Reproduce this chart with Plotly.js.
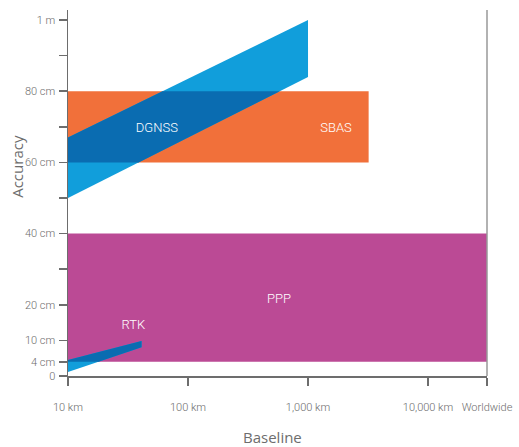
<!DOCTYPE html>
<html><head><meta charset="utf-8">
<script src="https://cdn.plot.ly/plotly-3.0.1.min.js"></script>
<style>html,body{margin:0;padding:0;background:#fff}#chart{width:519px;height:447px}</style>
</head><body><div id="chart"></div>
<script>
// ---- data (baseline in km, accuracy in cm) ----
const xTickVals = [10, 100, 1000, 10000, 31000];
const xTickText = ['10 km', '100 km', '1,000 km', '10,000 km', 'Worldwide'];
const yTickVals = [0, 4, 10, 20, 30, 40, 50, 60, 70, 80, 90, 100];
const yTickText = ['0', '4 cm', '10 cm', '20 cm', '', '40 cm', '', '60 cm', '', '80 cm', '', '1 m'];

// DGNSS band: baseline endpoints, lower and upper accuracy at those endpoints
const dgnssX = [10, 1000];
const dgnssLow = [50, 84];
const dgnssHigh = [67, 100];
// SBAS box
const sbasX = [10, 3200];
const sbasY = [60, 80];
// PPP box
const pppX = [10, 31000];
const pppY = [4, 40];
// RTK band
const rtkX = [10, 41];
const rtkLow = [1.1, 8.1];
const rtkHigh = [4.5, 9.8];

const labels = [
  {name: 'DGNSS', x: 55, y: 69.5},
  {name: 'SBAS', x: 1710, y: 69.5},
  {name: 'PPP', x: 573, y: 21.5},
  {name: 'RTK', x: 35, y: 14}
];

const C = {orange: '#f1703a', light: '#119edb', dark: '#0a6cb1', magenta: '#bb4a95', axis: '#6d6d6d'};

function band(xs, lo, hi) {
  const l = xs.map(Math.log10);
  return [[l[0], lo[0]], [l[1], lo[1]], [l[1], hi[1]], [l[0], hi[0]]];
}
function box(xs, ys) {
  const l = xs.map(Math.log10);
  return [[l[0], ys[0]], [l[1], ys[0]], [l[1], ys[1]], [l[0], ys[1]]];
}
function clip(poly, xmin, xmax, ymin, ymax) {
  const edges = [
    [p => p[0] >= xmin, (a, b) => { const t = (xmin - a[0]) / (b[0] - a[0]); return [xmin, a[1] + t * (b[1] - a[1])]; }],
    [p => p[0] <= xmax, (a, b) => { const t = (xmax - a[0]) / (b[0] - a[0]); return [xmax, a[1] + t * (b[1] - a[1])]; }],
    [p => p[1] >= ymin, (a, b) => { const t = (ymin - a[1]) / (b[1] - a[1]); return [a[0] + t * (b[0] - a[0]), ymin]; }],
    [p => p[1] <= ymax, (a, b) => { const t = (ymax - a[1]) / (b[1] - a[1]); return [a[0] + t * (b[0] - a[0]), ymax]; }]
  ];
  let out = poly;
  for (const [inside, inter] of edges) {
    const inp = out; out = [];
    for (let i = 0; i < inp.length; i++) {
      const cur = inp[i], prev = inp[(i + inp.length - 1) % inp.length];
      if (inside(cur)) { if (!inside(prev)) out.push(inter(prev, cur)); out.push(cur); }
      else if (inside(prev)) out.push(inter(prev, cur));
    }
  }
  return out;
}
function polyTrace(poly, color) {
  const xs = poly.map(p => Math.pow(10, p[0])), ys = poly.map(p => p[1]);
  xs.push(xs[0]); ys.push(ys[0]);
  return {x: xs, y: ys, type: 'scatter', mode: 'lines', fill: 'toself', fillcolor: color,
          line: {width: 0, color: color}, hoverinfo: 'skip', showlegend: false};
}

const dg = band(dgnssX, dgnssLow, dgnssHigh);
const sb = box(sbasX, sbasY);
const pp = box(pppX, pppY);
const rt = band(rtkX, rtkLow, rtkHigh);
const dgOver = clip(dg, Math.log10(sbasX[0]), Math.log10(sbasX[1]), sbasY[0], sbasY[1]);
const rtOver = clip(rt, Math.log10(pppX[0]), Math.log10(pppX[1]), pppY[0], pppY[1]);

const tickFont = {size: 11, color: C.axis, family: 'Roboto, sans-serif', weight: 300};
const traces = [
  polyTrace(pp, C.magenta),
  polyTrace(sb, C.orange),
  polyTrace(dg, C.light),
  polyTrace(dgOver, C.dark),
  polyTrace(rt, C.light),
  polyTrace(rtOver, C.dark),
  {x: labels.map(d => d.x), y: labels.map(d => d.y), text: labels.map(d => d.name),
   type: 'scatter', mode: 'text', textfont: {color: '#ffffff', size: 13, family: 'Roboto, sans-serif', weight: 300},
   hoverinfo: 'skip', showlegend: false}
];

const xMax = Math.log10(pppX[1]);
const layout = {
  width: 519, height: 447,
  margin: {l: 68, r: 32, t: 10, b: 71},
  paper_bgcolor: '#ffffff', plot_bgcolor: '#ffffff',
  font: {family: 'Roboto, sans-serif', color: C.axis, size: 11},
  xaxis: {type: 'log', range: [1, xMax], tickvals: xTickVals, ticktext: xTickText,
          ticks: 'outside', ticklen: 8, tickwidth: 1.5, tickcolor: C.axis, showline: true, linecolor: C.axis, linewidth: 1.5,
          showgrid: false, zeroline: false, ticklabelstandoff: 12, tickfont: tickFont, fixedrange: true},
  yaxis: {range: [0, 102.8], tickvals: yTickVals, ticktext: yTickText,
          ticks: 'outside', ticklen: 8, tickwidth: 1.5, tickcolor: C.axis, showline: true, linecolor: C.axis, linewidth: 1.5,
          showgrid: false, zeroline: false, ticklabelstandoff: 1, tickfont: tickFont, fixedrange: true},
  shapes: [
    {type: 'line', xref: 'paper', yref: 'paper', x0: 1, x1: 1, y0: 0, y1: 1, line: {color: '#999999', width: 1.5}}
  ],
  annotations: [
    {text: 'Accuracy', xref: 'paper', yref: 'paper', x: -0.122, y: 0.574, textangle: -90, showarrow: false,
     xanchor: 'center', yanchor: 'middle', font: {size: 15, color: C.axis, family: 'Open Sans, sans-serif'}},
    {text: 'Baseline', xref: 'paper', yref: 'paper', x: 0.489, y: -0.167, showarrow: false,
     xanchor: 'center', yanchor: 'middle', font: {size: 15, color: C.axis, family: 'Open Sans, sans-serif'}}
  ]
};
Plotly.newPlot('chart', traces, layout, {displayModeBar: false, staticPlot: true});
</script></body></html>
